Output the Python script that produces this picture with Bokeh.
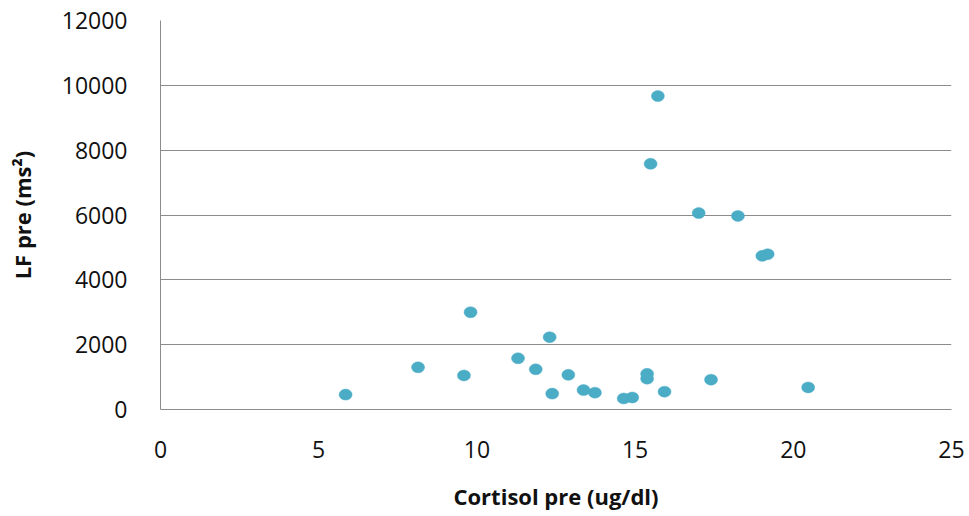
from bokeh.plotting import figure
from bokeh.models import Range1d, FixedTicker
from bokeh.embed import file_html
from bokeh.resources import INLINE

# Data
cortisol_pre = [5.85, 8.14, 9.59, 9.80, 11.30, 11.86, 12.30, 12.38, 12.89, 13.37,
                13.73, 14.64, 14.91, 15.38, 15.38, 15.49, 15.72, 15.93, 17.01, 17.40,
                18.25, 19.02, 19.19, 20.47]
lf_pre = [460, 1300, 1050, 3000, 1580, 1240, 2230, 490, 1070, 600,
          520, 340, 370, 1100, 950, 7580, 9670, 550, 6060, 920,
          5970, 4740, 4790, 680]
x_ticks = [0, 5, 10, 15, 20, 25]
y_ticks = [0, 2000, 4000, 6000, 8000, 10000, 12000]
x_title = "Cortisol pre (ug/dl)"
y_title = "LF pre (ms²)"

FONT = "Open Sans"
GRID = "#8c8c8c"

p = figure(frame_width=791, frame_height=389, output_backend="svg", toolbar_location=None,
           x_range=Range1d(0, 25), y_range=Range1d(0, 12000),
           min_border_left=160, min_border_right=16,
           min_border_top=20, min_border_bottom=106)
p.outline_line_color = None
p.background_fill_color = "white"
p.border_fill_color = "white"

p.ellipse(x=cortisol_pre, y=lf_pre, width=13, height=11,
          width_units="screen", height_units="screen",
          fill_color="#4BACC6", line_color="#4BACC6", line_width=0.5)

p.xgrid.visible = False
p.ygrid.ticker = FixedTicker(ticks=y_ticks)
p.ygrid.grid_line_color = GRID
p.ygrid.grid_line_width = 1

for ax in (p.xaxis[0], p.yaxis[0]):
    ax.major_tick_line_color = None
    ax.minor_tick_line_color = None
    ax.axis_line_color = GRID
    ax.axis_line_width = 1
    ax.major_label_text_font = FONT
    ax.major_label_text_font_size = "23px"
    ax.major_label_text_color = "#111111"
    ax.axis_label_text_font = FONT
    ax.axis_label_text_font_style = "bold"
    ax.axis_label_text_font_size = "22px"
    ax.axis_label_text_color = "#111111"

p.xaxis[0].ticker = FixedTicker(ticks=x_ticks)
p.yaxis[0].ticker = FixedTicker(ticks=y_ticks)
p.xaxis[0].axis_label = x_title
p.yaxis[0].axis_label = y_title
p.xaxis[0].major_label_standoff = 25
p.xaxis[0].axis_label_standoff = 20
p.yaxis[0].major_label_standoff = 27
p.yaxis[0].axis_label_standoff = 22

open("out.html", "w").write(file_html(p, INLINE))
